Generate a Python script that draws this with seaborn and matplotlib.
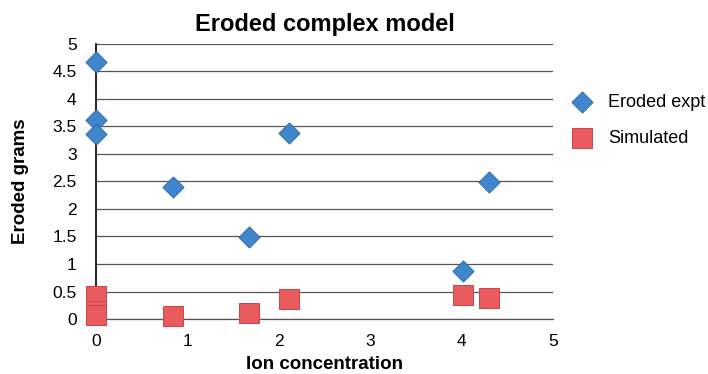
import matplotlib
matplotlib.use("Agg")
import matplotlib.pyplot as plt
import seaborn as sns
import pandas as pd

# Data
expt_x = [0.0, 0.0, 0.0, 0.84, 1.67, 2.11, 4.02, 4.30]
expt_y = [4.67, 3.62, 3.36, 2.40, 1.49, 3.38, 0.87, 2.49]
sim_x = [0.0, 0.0, 0.0, 0.84, 1.67, 2.11, 4.02, 4.30]
sim_y = [0.42, 0.15, 0.08, 0.05, 0.11, 0.36, 0.44, 0.38]
series_names = ["Eroded expt", "Simulated"]
x_ticks = [0, 1, 2, 3, 4, 5]
y_ticks = [0, 0.5, 1, 1.5, 2, 2.5, 3, 3.5, 4, 4.5, 5]
y_tick_labels = ["0", "0.5", "1", "1.5", "2", "2.5", "3", "3.5", "4", "4.5", "5"]

df = pd.concat([
    pd.DataFrame({"x": expt_x, "y": expt_y, "series": series_names[0]}),
    pd.DataFrame({"x": sim_x, "y": sim_y, "series": series_names[1]}),
], ignore_index=True)

sns.set_theme(style="white")
plt.rcParams["font.family"] = ["Liberation Sans", "DejaVu Sans"]
plt.rcParams["text.color"] = "black"
plt.rcParams["axes.labelcolor"] = "black"

fig = plt.figure(figsize=(7.08, 3.74), dpi=100)
ax = fig.add_axes([96/708, 1-319/374, (553-96)/708, (319-44)/374])

palette = {series_names[0]: "#3f86cc", series_names[1]: "#ea5b5e"}
markers = {series_names[0]: "D", series_names[1]: "s"}
sizes = {series_names[0]: 115, series_names[1]: 190}
edges = {series_names[0]: "#2d6aa8", series_names[1]: "#c94548"}

for name in series_names:
    sub = df[df["series"] == name]
    sns.scatterplot(data=sub, x="x", y="y", ax=ax, color=palette[name],
                    marker=markers[name], s=sizes[name],
                    edgecolor=edges[name], linewidth=0.7, label=name, zorder=3,
                    clip_on=False)

ax.set_xlim(0, 5)
ax.set_ylim(0, 5)
ax.set_xticks(x_ticks)
ax.set_xticklabels([str(t) for t in x_ticks], fontsize=12.5)
ax.set_yticks(y_ticks)
ax.set_yticklabels(y_tick_labels, fontsize=12.5)
ax.yaxis.grid(True, color="#555555", linewidth=0.9)
ax.xaxis.grid(False)
for side in ["top", "right"]:
    ax.spines[side].set_visible(False)
ax.spines["left"].set_color("black")
ax.spines["left"].set_linewidth(1.2)
ax.spines["bottom"].set_color("#555555")
ax.spines["bottom"].set_linewidth(0.9)
ax.tick_params(axis="y", length=0, pad=14, colors="black")
ax.tick_params(axis="x", length=0, pad=11, colors="black")

ax.set_title("Eroded complex model", fontsize=17, fontweight="bold", pad=9)
ax.set_xlabel("Ion concentration", fontsize=13.5, fontweight="bold")
ax.set_ylabel("Eroded grams", fontsize=13.5, fontweight="bold")
ax.xaxis.set_label_coords(0.5, -0.167, transform=ax.transAxes)
ax.xaxis.label.set_va("center")
ax.yaxis.set_label_coords(-0.165, 0.5, transform=ax.transAxes)
ax.yaxis.label.set_va("center")

leg = ax.legend(loc="upper left", bbox_to_anchor=(1.008, 0.845), frameon=False,
                fontsize=13, handletextpad=0.45, labelspacing=1.05, borderaxespad=0)

fig.savefig("out.png", dpi=100)
